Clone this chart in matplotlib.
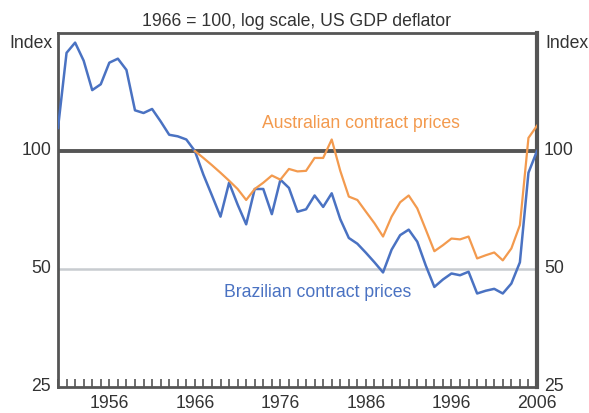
import numpy as np
import matplotlib
matplotlib.use('Agg')
import matplotlib.pyplot as plt
import matplotlib.transforms as mtransforms
from matplotlib.ticker import FixedLocator, NullFormatter, NullLocator

plt.rcParams['font.family'] = ['Liberation Sans', 'DejaVu Sans']

# Index values, 1966 = 100
years_br = list(range(1950, 2007))
brazil = [114.5, 178, 189, 170, 143, 148, 168, 172, 161, 127,
          125, 128, 119, 110, 109, 107, 100, 87, 77, 68,
          83, 73, 65, 80, 80, 69, 84.5, 80.5, 70, 71,
          77, 72, 78, 67, 60, 58, 55, 52, 49, 56,
          61, 63, 58.7, 51, 45, 47, 48.7, 48.2, 49.2, 43.3,
          44, 44.5, 43.3, 45.9, 52, 88, 100]
years_au = list(range(1966, 2007))
australia = [100, 96, 92, 88, 84, 80, 75, 80, 83, 86.6,
             84.5, 90, 88.7, 89, 96, 96, 107, 89, 76.5, 75,
             70, 65.4, 60.5, 68, 74, 77, 71.4, 63, 55.5, 57.5,
             59.8, 59.5, 60.5, 53.2, 54.2, 55.1, 52.6, 56.4, 64.7, 108, 116]
label_years = [1956, 1966, 1976, 1986, 1996, 2006]
y_ticks = [25, 50, 100]

blue = '#4a72c2'
orange = '#f39a4e'
grey = '#555555'
txt = '#333333'
fs = 12.7

fig = plt.figure(figsize=(5.89, 4.14), dpi=100)
ax = fig.add_axes([58/589, 1-388/414, (537-58)/589, (388-34)/414])

ax.set_yscale('log')
ax.set_ylim(25, 200)
ax.set_xlim(1950, 2006)

ax.axhline(50, color='#c8ccd0', lw=1.8, zorder=1)
ax.axhline(100, color=grey, lw=2.8, zorder=2)

ax.plot(years_br, brazil, color=blue, lw=1.8, zorder=3)
ax.plot(years_au, australia, color=orange, lw=1.6, zorder=4)

ax.text(1973.9, 118, 'Australian contract prices', color=orange, fontsize=fs, va='center')
ax.text(1969.4, 43.8, 'Brazilian contract prices', color=blue, fontsize=fs, va='center')

# y axis labels on both sides
ax.yaxis.set_major_locator(FixedLocator(y_ticks))
ax.yaxis.set_minor_locator(NullLocator())
ax.set_yticklabels([str(v) for v in y_ticks])
ax.yaxis.set_minor_formatter(NullFormatter())
ax.tick_params(axis='y', which='both', length=0, labelsize=fs, labelcolor=txt,
               left=True, right=True, labelleft=True, labelright=True, pad=5)
# nudge y labels up a touch so the bottom "25" clears the year labels
shift = mtransforms.ScaledTranslation(0, 3/100, fig.dpi_scale_trans)
for t in ax.yaxis.get_major_ticks():
    t.label1.set_transform(t.label1.get_transform() + shift)
    t.label2.set_transform(t.label2.get_transform() + shift)

# x axis: tick every year, label every ten
ax.xaxis.set_minor_locator(FixedLocator(years_br))
ax.xaxis.set_major_locator(FixedLocator(label_years))
ax.set_xticklabels([str(y) for y in label_years])
ax.tick_params(axis='x', which='both', direction='in', length=6, width=1.2,
               color=grey, labelsize=fs, labelcolor=txt, pad=5)

for s in ['left', 'top', 'bottom']:
    ax.spines[s].set_color(grey)
    ax.spines[s].set_linewidth(2)
ax.spines['right'].set_color(grey)
ax.spines['right'].set_linewidth(3)

fig.text(297/589, 1-22/414, '1966 = 100, log scale, US GDP deflator', ha='center', va='center',
         fontsize=fs, color=txt)
fig.text(53/589, 1-44/414, 'Index', ha='right', va='center', fontsize=fs, color=txt)
fig.text(545/589, 1-44/414, 'Index', ha='left', va='center', fontsize=fs, color=txt)

fig.savefig('out.png', dpi=100)
